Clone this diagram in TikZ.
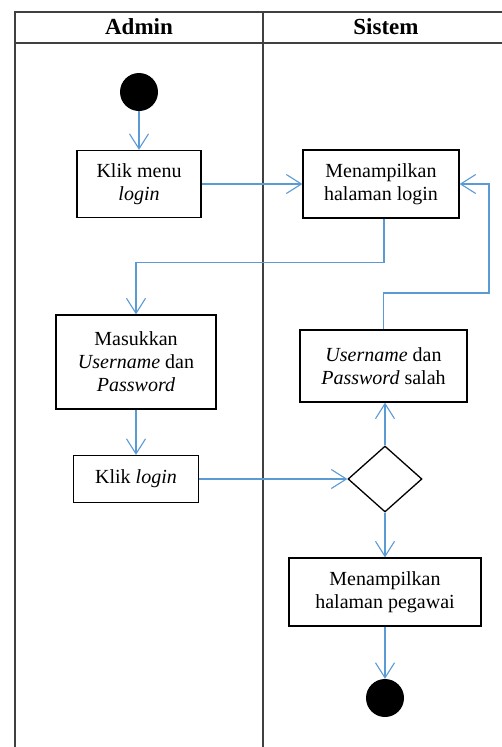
\documentclass[tikz,border=0pt]{standalone}
\usepackage{fontspec}
\setmainfont{Liberation Serif}
\usetikzlibrary{arrows.meta,shapes.geometric,calc}
\definecolor{flowblue}{HTML}{5B9BD5}
\definecolor{frameg}{HTML}{404040}
\tikzset{
  frame/.style={draw=frameg, line width=1.3pt},
  lane/.style={font=\fontsize{23}{27}\selectfont\bfseries, inner sep=0pt},
  actbox/.style={draw=black, line width=1.3pt, align=center, inner sep=0pt,
     font=\fontsize{20}{23}\selectfont},
  dot/.style={circle, fill=black, minimum size=38pt, inner sep=0pt},
  decision/.style={diamond, draw=black, line width=1.3pt, minimum width=74pt, minimum height=66pt, inner sep=0pt},
  flow/.style={draw=flowblue, line width=1.1pt, -{Straight Barb[length=15pt, width=19pt]}}
}
\begin{document}
\begin{tikzpicture}[x=1pt, y=-1pt]
\useasboundingbox[fill=white] (0,0) rectangle (502,747);
% frame
\draw[frame] (15,747) -- (15,12) -- (502,12);
\draw[frame] (15,43) -- (502,43);
\draw[frame] (263,12) -- (263,747);
\node[lane] (admin) at (139,27) {Admin};
\node[lane] (sistem) at (386,27) {Sistem};
% nodes
\node[dot] (start) at (139,92) {};
\node[actbox, minimum width=124pt, minimum height=67pt] (klikmenu) at (139,184) {Klik menu\\\textit{login}};
\node[actbox, minimum width=156pt, minimum height=68pt] (tampil) at (381,184) {Menampilkan\\halaman login};
\node[actbox, minimum width=160pt, minimum height=94pt] (masuk) at (136,362) {Masukkan\\\textit{Username} dan\\\textit{Password}};
\node[actbox, minimum width=167pt, minimum height=72pt] (salah) at (383.5,366) {\textit{Username} dan\\\textit{Password} salah};
\node[actbox, minimum width=125pt, minimum height=47pt] (kliklogin) at (136,479) {Klik \textit{login}};
\node[decision] (dec) at (385,479) {};
\node[actbox, minimum width=192pt, minimum height=68pt] (pegawai) at (385,592) {Menampilkan\\halaman pegawai};
\node[dot] (end) at (385,698) {};
\coordinate (loopr) at (489,293);
% connectors
\draw[flow] (start) -- (klikmenu);
\draw[flow] (klikmenu.east) -- (klikmenu.east -| tampil.west);
\draw[flow] ([xshift=3pt]tampil.south) -- ++(0,44) -| (masuk.north);
\draw[flow] (masuk) -- (kliklogin);
\draw[flow] (kliklogin.east) -- (dec.west);
\draw[flow] (dec.north) -- (dec.north |- salah.south);
\draw[flow] (salah.north) |- (loopr) |- (tampil.east);
\draw[flow] (dec.south) -- (pegawai.north);
\draw[flow] (pegawai.south) -- (end);
\end{tikzpicture}
\end{document}
